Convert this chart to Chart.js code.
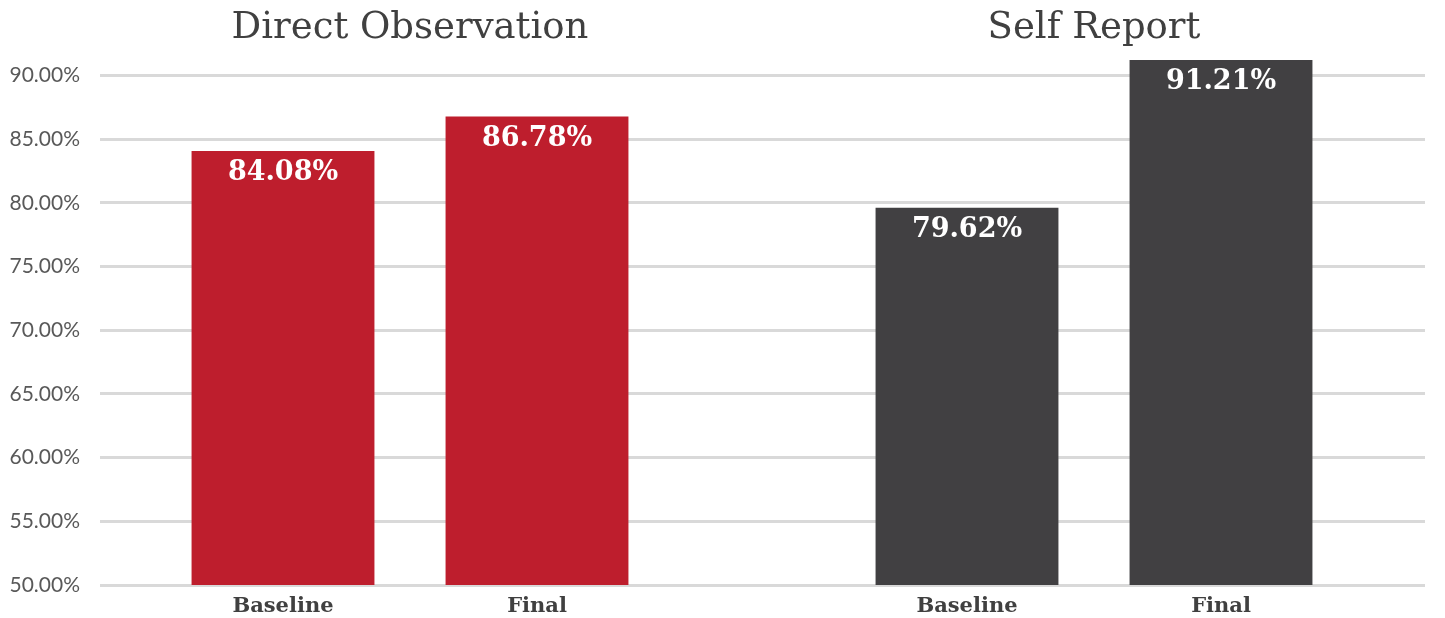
<!DOCTYPE html>
<html>
<head>
<meta charset="utf-8">
<script src="https://cdn.jsdelivr.net/npm/chart.js@4.4.1/dist/chart.umd.min.js"></script>
<style>
  html, body { margin: 0; padding: 0; background: #fff; }
  #wrap { position: relative; width: 1445px; height: 618px; }
  canvas { position: absolute; top: 0; }
  #left { left: 0; }
  #right { left: 664px; }
</style>
</head>
<body>
<div id="wrap">
  <canvas id="left" width="664" height="618"></canvas>
  <canvas id="right" width="781" height="618"></canvas>
</div>
<script>
// data
const groupTitles = ["Direct Observation", "Self Report"];
const phases = ["Baseline", "Final"];
const directObservation = [84.08, 86.78];
const selfReport = [79.62, 91.21];
const yMin = 50;
const yMax = 92;
const yStep = 5;

const RED = "#BE1E2D";
const DARK = "#414042";
const GRID = "#D9D9D9";
const TEXT = "#404040";

const pct = (v) => `${Number(v).toFixed(2)}%`;

// white value labels inside the top of each bar
const barLabels = {
  id: "barLabels",
  afterDatasetsDraw(chart) {
    const { ctx } = chart;
    const meta = chart.getDatasetMeta(0);
    const values = chart.data.datasets[0].data;
    ctx.save();
    ctx.fillStyle = "#fff";
    ctx.font = "bold 27px 'DejaVu Serif'";
    ctx.textAlign = "center";
    ctx.textBaseline = "middle";
    meta.data.forEach((bar, i) => {
      ctx.fillText(pct(values[i]), bar.x, bar.y + 22);
    });
    ctx.restore();
  },
};

function yScale(opts) {
  return {
    min: yMin,
    max: yMax,
    border: { display: false },
    grid: {
      color: GRID,
      lineWidth: 3,
      drawTicks: true,
      tickLength: opts.tickLength,
      drawOnChartArea: opts.onArea !== false,
    },
    ticks: {
      stepSize: yStep,
      includeBounds: false,
      display: !!opts.labels,
      padding: 20,
      color: "#595959",
      font: { family: "Lato", size: 21 },
      callback: (v) => pct(v),
    },
    position: opts.position || "left",
    afterFit(scale) {
      scale.width = opts.width;
    },
  };
}

function makeChart(id, title, values, color, yScales) {
  return new Chart(document.getElementById(id), {
    type: "bar",
    data: {
      labels: phases,
      datasets: [
        {
          data: values,
          backgroundColor: color,
          categoryPercentage: 1,
          barPercentage: 0.72,
        },
      ],
    },
    options: {
      responsive: false,
      animation: false,
      layout: { padding: 0 },
      scales: {
        x: {
          grid: { display: false },
          border: { display: false },
          ticks: {
            color: TEXT,
            padding: 1,
            font: { family: "DejaVu Serif", size: 21, weight: "bold" },
          },
          afterFit(scale) {
            scale.height = 33;
          },
        },
        ...yScales,
      },
      plugins: {
        legend: { display: false },
        tooltip: { enabled: false },
        title: {
          display: true,
          text: title,
          fullSize: false,
          color: TEXT,
          font: { family: "DejaVu Serif", size: 37, weight: "normal", lineHeight: 1 },
          padding: { top: 10, bottom: 3 },
        },
      },
    },
    plugins: [barLabels],
  });
}

makeChart("left", groupTitles[0], directObservation, RED, {
  y: yScale({ width: 156, tickLength: 56, labels: true }),
});

makeChart("right", groupTitles[1], selfReport, DARK, {
  y: yScale({ width: 176, tickLength: 176 }),
  yR: yScale({ width: 97, tickLength: 77, position: "right", onArea: false }),
});
</script>
</body>
</html>
